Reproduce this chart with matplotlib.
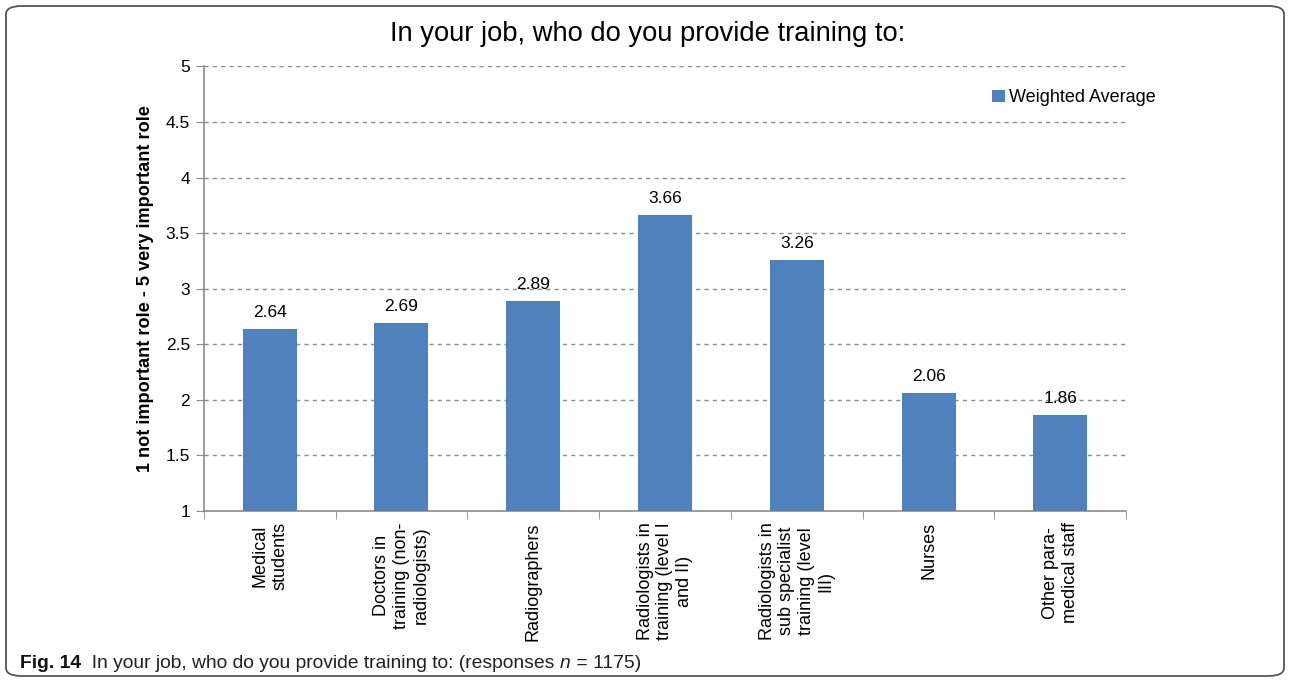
import matplotlib.pyplot as plt
from matplotlib.patches import FancyBboxPatch
import numpy as np

# Survey results: weighted average importance of each trainee group
groups = ["Medical\nstudents",
          "Doctors in\ntraining (non-\nradiologists)",
          "Radiographers",
          "Radiologists in\ntraining (level I\nand II)",
          "Radiologists in\nsub specialist\ntraining (level\nIII)",
          "Nurses",
          "Other para-\nmedical staff"]
weighted_avg = [2.64, 2.69, 2.89, 3.66, 3.26, 2.06, 1.86]
y_ticks = [1, 1.5, 2, 2.5, 3, 3.5, 4, 4.5, 5]

bar_color = "#4F81BD"
grid_color = "#8C8C8C"

plt.rcParams['font.family'] = ['Liberation Sans', 'DejaVu Sans']

fig = plt.figure(figsize=(12.9, 6.82), dpi=100)
ax = fig.add_axes([0.158, 0.2507, 0.715, 0.652])

x = np.arange(len(groups))
ax.bar(x, weighted_avg, width=0.41, color=bar_color, label="Weighted Average", zorder=3)

for xi, v in zip(x, weighted_avg):
    ax.annotate(f"{v:.2f}", (xi, v), xytext=(0, 6.5), textcoords="offset points",
                ha="center", va="bottom", fontsize=12.5)

ax.set_xlim(-0.5, len(groups) - 0.5)
ax.set_ylim(1, 5)
ax.set_yticks(y_ticks)
ax.set_yticklabels([f"{t:g}" for t in y_ticks], fontsize=12.5)
ax.yaxis.grid(True, linestyle=(0, (3, 3)), color=grid_color, linewidth=1, zorder=0)

# category labels sit between boundary tick marks, Excel-style
ax.set_xticks(x)
ax.set_xticklabels(groups, rotation=90, fontsize=13, ha="center", va="top")
for lbl in ax.get_xticklabels():
    lbl.set_multialignment("center")
    lbl.set_linespacing(1.2)
ax.tick_params(axis="x", length=0, pad=8)
ax.set_xticks(np.arange(len(groups) + 1) - 0.5, minor=True)
ax.tick_params(axis="x", which="minor", length=6, color=grid_color, direction="out")
ax.tick_params(axis="y", length=6, color=grid_color, direction="out", pad=4)

for side in ["top", "right"]:
    ax.spines[side].set_visible(False)
for side in ["left", "bottom"]:
    ax.spines[side].set_color(grid_color)
    ax.spines[side].set_linewidth(1.2)

ax.set_ylabel("1 not important role - 5 very important role", fontsize=13.1,
              fontweight="bold", labelpad=8)

ax.legend(loc="upper right", bbox_to_anchor=(1.04, 0.965), frameon=False,
          fontsize=13, handlelength=0.7, handleheight=0.7, handletextpad=0.25,
          borderaxespad=0)

fig.text(0.502, 0.950, "In your job, who do you provide training to:", ha="center",
         va="center", fontsize=19.7)

# caption under the chart, pieces chained left to right
cap_size = 13.9
t1 = fig.text(20 / 1290, 1 - 663 / 682, "Fig. 14", fontsize=cap_size,
              fontweight="bold", va="center", color="#111111")
t2 = ax.annotate("  In your job, who do you provide training to: (responses ",
                 xy=(1, 0), xycoords=t1, va="bottom", fontsize=cap_size,
                 color="#222222", annotation_clip=False)
t3 = ax.annotate("n", xy=(1, 0), xycoords=t2, va="bottom", fontsize=cap_size,
                 style="italic", color="#222222", annotation_clip=False)
ax.annotate(" = 1175)", xy=(1, 0), xycoords=t3, va="bottom", fontsize=cap_size,
            color="#222222", annotation_clip=False)

# rounded frame around the figure
frame = FancyBboxPatch((6 / 1290, 6 / 682), 1 - 12 / 1290, 1 - 12 / 682,
                       boxstyle="round,pad=0,rounding_size=0.012",
                       transform=fig.transFigure, facecolor="none",
                       edgecolor="#555555", linewidth=1.3)
fig.patches.append(frame)

fig.savefig("out.png", dpi=100)
